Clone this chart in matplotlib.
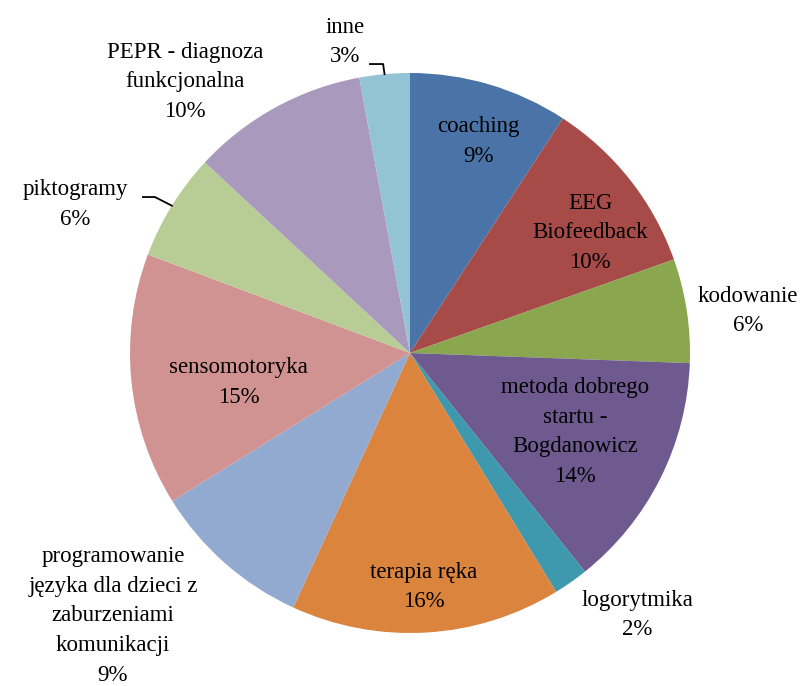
import numpy as np
import matplotlib.pyplot as plt

# data (clockwise from 12 o'clock)
labels = ["coaching", "EEG\nBiofeedback", "kodowanie",
          "metoda dobrego\nstartu -\nBogdanowicz", "logorytmika", "terapia ręka",
          "programowanie\njęzyka dla dzieci z\nzaburzeniami\nkomunikacji",
          "sensomotoryka", "piktogramy", "PEPR - diagnoza\nfunkcjonalna", "inne"]
values = [9.2, 10.4, 6.0, 13.7, 2.0, 15.6, 9.3, 14.6, 6.2, 10.2, 2.9]
colors = ["#4A74A8", "#A64B48", "#8AA64F", "#6E5A8E", "#3E98AE", "#DB843E",
          "#92A9D0", "#D19392", "#B8CD96", "#A99ABD", "#93C4D6"]

# label centres in pie units (radius = 1)
label_pos = [(0.243, 0.754), (0.643, 0.429), (1.207, 0.150), (0.589, -0.282),
             (0.811, -0.936), (0.050, -0.836), (-1.061, -0.939), (-0.611, -0.104),
             (-1.196, 0.529), (-0.804, 0.968), (-0.232, 1.111)]

plt.rcParams['font.family'] = ['Liberation Serif', 'DejaVu Serif']

fig = plt.figure(figsize=(8.09, 6.86), dpi=100)
ax = fig.add_axes([0, 0, 1, 1])

wedges, _ = ax.pie(values, colors=colors, startangle=90, counterclock=False,
                   radius=1.0, wedgeprops=dict(linewidth=0))

total = sum(values)
for w, lab, v, (tx, ty) in zip(wedges, labels, values, label_pos):
    pct = f"{v / total * 100:.0f}%"
    ax.text(tx, ty, lab + "\n" + pct, ha="center", va="center", fontsize=16.5,
            linespacing=1.55, color="black")

# leader lines for the two small outside labels
for i, elbow in [(10, (-0.143, -0.096)), (8, (-0.954, -0.911))]:
    w = wedges[i]
    mid = np.deg2rad((w.theta1 + w.theta2) / 2)
    ex, ey = np.cos(mid), np.sin(mid)
    if i == 10:
        ax.plot([elbow[0], elbow[1], ex], [1.032, 1.032, ey], color="black", lw=1.3)
    else:
        ax.plot([elbow[0], elbow[1], ex], [0.557, 0.557, ey], color="black", lw=1.3)

ax.set_xlim(-410 / 280, (809 - 410) / 280)
ax.set_ylim(-(686 - 353) / 280, 353 / 280)
ax.set_aspect("auto")
ax.axis("off")

fig.savefig("out.png", dpi=100)
